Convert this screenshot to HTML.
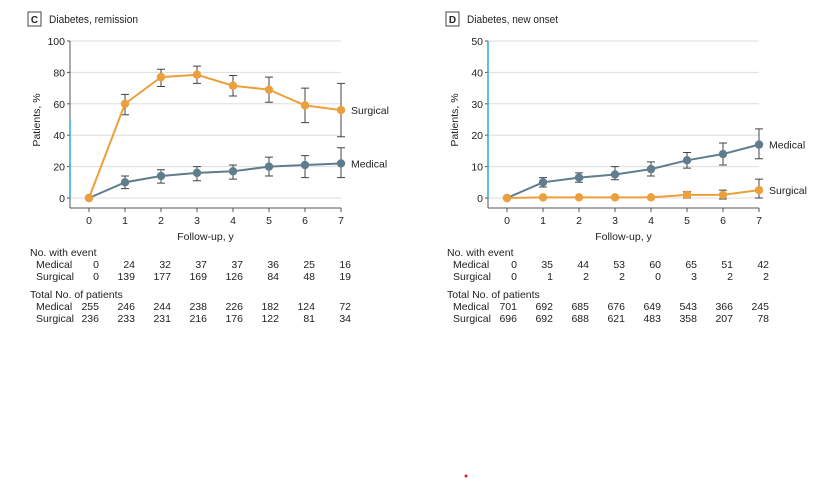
<!DOCTYPE html><html><head><meta charset="utf-8"><style>
body{margin:0;background:#fff;width:816px;height:479px;overflow:hidden}
svg text{font-family:"Liberation Sans",sans-serif;fill:#222}
</style></head><body>
<svg id="s" width="816" height="479" xmlns="http://www.w3.org/2000/svg"></svg>
<script>
const s=document.getElementById('s');let h='';
const O='#EBA03C',M='#5F7D8C';
function panel(ax,x0,ymax,letter,title,tl,surg,med,sl,ml,tab,tx){
 const X=i=>x0+i*36, Y=v=>198-v*157/ymax;
 h+=`<rect x="${ax-42}" y="12" width="13" height="14" fill="#fff" stroke="#444" stroke-width="1"/><text x="${ax-35.5}" y="23" font-size="10" font-weight="bold" text-anchor="middle">${letter}</text><text x="${ax-21}" y="23" font-size="11" textLength="${tl}" lengthAdjust="spacingAndGlyphs">${title}</text>`;
 for(let k=0;k<=5;k++){const v=ymax*k/5,y=Y(v);h+=`<line x1="${ax}" x2="${X(7)}" y1="${y}" y2="${y}" stroke="#ddd"/><line x1="${ax-3}" x2="${ax}" y1="${y}" y2="${y}" stroke="#555"/><text x="${ax-5}" y="${y+4}" font-size="10.5" text-anchor="end">${v}</text>`;}
 h+=`<line x1="${ax}" x2="${ax}" y1="41" y2="208" stroke="#555"/><line x1="${ax}" x2="${X(7)}" y1="208" y2="208" stroke="#555"/>`;
 for(let i=0;i<8;i++)h+=`<line x1="${X(i)}" x2="${X(i)}" y1="208" y2="212" stroke="#555"/><text x="${X(i)}" y="224" font-size="10.5" text-anchor="middle">${i}</text>`;
 h+=`<text x="${(ax+X(7))/2}" y="240" font-size="10.5" text-anchor="middle">Follow-up, y</text><text transform="translate(${ax-30},120) rotate(-90)" font-size="10.5" text-anchor="middle">Patients, %</text>`;
 for(const [d,c,l] of [[med,M,ml],[surg,O,sl]]){
  for(let i=0;i<8;i++)if(d[i][1]!=null){const a=Y(d[i][1]),b=Y(d[i][2]);h+=`<path d="M${X(i)} ${a}V${b}M${X(i)-4} ${a}h8M${X(i)-4} ${b}h8" stroke="#444" fill="none"/>`;}
  h+=`<polyline points="${d.map((p,i)=>X(i)+','+Y(p[0])).join(' ')}" fill="none" stroke="${c}" stroke-width="2"/>`;
  d.forEach((p,i)=>h+=`<circle cx="${X(i)}" cy="${Y(p[0])}" r="4.2" fill="${c}"/>`);
  h+=`<text x="${X(7)+10}" y="${Y(d[7][0])+l}" font-size="10.5">${c==O?'Surgical':'Medical'}</text>`;
 }
 const rows=[['No. with event',256],['Medical',268,tab[0]],['Surgical',280,tab[1]],['Total No. of patients',298],['Medical',310,tab[2]],['Surgical',322,tab[3]]];
 for(const r of rows){if(!r[2])h+=`<text x="${tx}" y="${r[1]}" font-size="10.5">${r[0]}</text>`;else{h+=`<text x="${tx+6}" y="${r[1]}" font-size="10.5">${r[0]}</text>`;r[2].forEach((v,i)=>h+=`<text x="${X(i)+10}" y="${r[1]}" font-size="10.5" text-anchor="end">${v}</text>`);}}
}
panel(70,89,100,'C','Diabetes, remission',89,
 [[0],[60,53,66],[77,71,82],[78.5,73,84],[71.5,65,78],[69,61,77],[59,48,70],[56,39,73]],
 [[0],[10,6,14],[14,9.5,18],[16,11,20],[17,12,21],[20,14,26],[21,13,27],[22,13,32]],4,4,
 [[0,24,32,37,37,36,25,16],[0,139,177,169,126,84,48,19],[255,246,244,238,226,182,124,72],[236,233,231,216,176,122,81,34]],30);
panel(488,507,50,'D','Diabetes, new onset',91,
 [[0],[0.2],[0.2],[0.2],[0.2],[1,0,2],[1,-0.3,2.5],[2.5,0,6]],
 [[0],[5,3.5,6.5],[6.5,5,8],[7.5,5.8,10],[9.2,7,11.5],[12,9.5,14.5],[14,10.5,17.5],[17,12.5,22]],4,4,
 [[0,35,44,53,60,65,51,42],[0,1,2,2,0,3,2,2],[701,692,685,676,649,543,366,245],[696,692,688,621,483,358,207,78]],447);
h+=`<line x1="70" x2="70" y1="120" y2="198" stroke="#29a8e0" stroke-width="1.5"/><line x1="488" x2="488" y1="41" y2="198" stroke="#29a8e0" stroke-width="1.5"/><circle cx="466" cy="476" r="1.5" fill="#e02020"/>`;
s.innerHTML=h;
</script></body></html>
